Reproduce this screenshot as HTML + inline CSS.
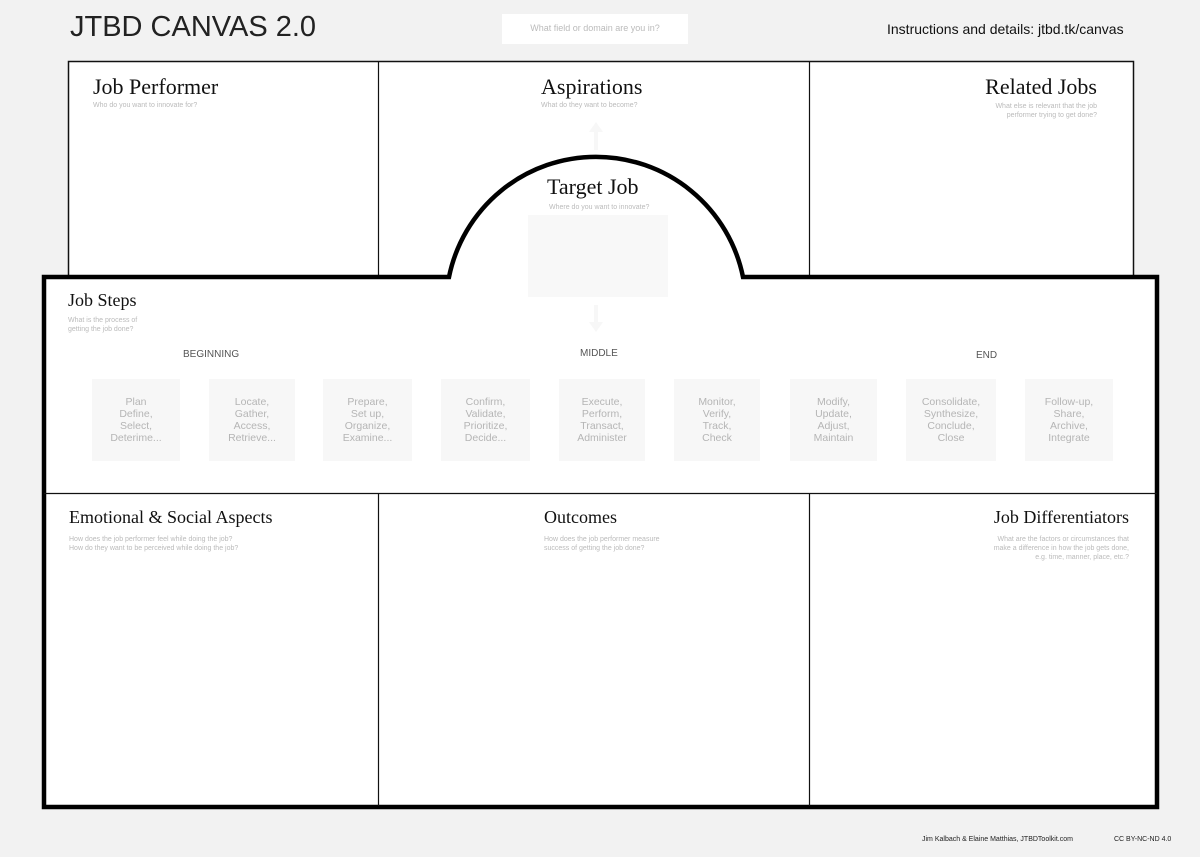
<!DOCTYPE html>
<html><head><meta charset="utf-8"><style>
body{margin:0;width:1200px;height:857px;background:#f2f2f2;position:relative;overflow:hidden;font-family:"Liberation Sans",sans-serif}
.a{position:absolute}
.h{font-family:"Liberation Serif",serif;font-size:22px;color:#111;white-space:nowrap}
.s{font-size:7px;color:#bbb;line-height:9px;white-space:nowrap}
.box{position:absolute;top:379px;height:82px;background:#f7f7f7;color:#b5b5b5;font-size:10.5px;text-align:center;line-height:12px;display:flex;align-items:center;justify-content:center}
.lbl{font-size:10px;color:#555;position:absolute}
</style></head><body>
<div class="a" style="left:70px;top:11px;font-size:29px;color:#222">JTBD CANVAS 2.0</div>
<div class="a" style="left:502px;top:14px;width:186px;height:30px;background:#fff;color:#bbb;font-size:9px;line-height:28px;text-align:center">What field or domain are you in?</div>
<div class="a" style="left:887px;top:21px;font-size:14px;color:#111">Instructions and details: jtbd.tk/canvas</div>

<svg class="a" style="left:0;top:0" width="1200" height="857">
<rect x="68.5" y="61.5" width="1065" height="230" fill="#fff" stroke="#111" stroke-width="1.5"/>
<line x1="378.5" y1="61" x2="378.5" y2="276" stroke="#111" stroke-width="1.2"/>
<line x1="809.5" y1="61" x2="809.5" y2="276" stroke="#111" stroke-width="1.2"/>
<polygon points="596,122 603,132 598,132 598,150 594,150 594,132 589,132" fill="#f7f7f7"/>
<path d="M44 277 H449 A150 150 0 0 1 743 277 H1157 V807 H44 Z" fill="#fff" stroke="#000" stroke-width="4.5"/>
<line x1="44" y1="493.5" x2="1157" y2="493.5" stroke="#111" stroke-width="1.2"/>
<line x1="378.5" y1="493" x2="378.5" y2="806" stroke="#111" stroke-width="1.2"/>
<line x1="809.5" y1="493" x2="809.5" y2="806" stroke="#111" stroke-width="1.2"/>
<rect x="528" y="215" width="140" height="82" fill="#f8f8f8"/>
<polygon points="596,332 603,322 598,322 598,305 594,305 594,322 589,322" fill="#f7f7f7"/>
</svg>

<div class="a h" style="left:93px;top:74px">Job Performer</div>
<div class="a s" style="left:93px;top:101px">Who do you want to innovate for?</div>
<div class="a h" style="left:541px;top:74px">Aspirations</div>
<div class="a s" style="left:541px;top:101px">What do they want to become?</div>
<div class="a h" style="right:103px;top:74px">Related Jobs</div>
<div class="a s" style="right:103px;top:102px;text-align:right">What else is relevant that the job<br>performer trying to get done?</div>
<div class="a h" style="left:547px;top:174px">Target Job</div>
<div class="a s" style="left:549px;top:203px">Where do you want to innovate?</div>
<div class="a h" style="left:68px;top:290px;font-size:18px">Job Steps</div>
<div class="a s" style="left:68px;top:316px">What is the process of<br>getting the job done?</div>
<div class="lbl" style="left:183px;top:349px">BEGINNING</div>
<div class="lbl" style="left:580px;top:348px">MIDDLE</div>
<div class="lbl" style="left:976px;top:350px">END</div>
<div class="box" style="left:92px;width:88px">Plan<br>Define,<br>Select,<br>Deterime...</div>
<div class="box" style="left:209px;width:86px">Locate,<br>Gather,<br>Access,<br>Retrieve...</div>
<div class="box" style="left:323px;width:89px">Prepare,<br>Set up,<br>Organize,<br>Examine...</div>
<div class="box" style="left:441px;width:89px">Confirm,<br>Validate,<br>Prioritize,<br>Decide...</div>
<div class="box" style="left:559px;width:86px">Execute,<br>Perform,<br>Transact,<br>Administer</div>
<div class="box" style="left:674px;width:86px">Monitor,<br>Verify,<br>Track,<br>Check</div>
<div class="box" style="left:790px;width:87px">Modify,<br>Update,<br>Adjust,<br>Maintain</div>
<div class="box" style="left:906px;width:90px">Consolidate,<br>Synthesize,<br>Conclude,<br>Close</div>
<div class="box" style="left:1025px;width:88px">Follow-up,<br>Share,<br>Archive,<br>Integrate</div>
<div class="a h" style="left:69px;top:507px;font-size:18px">Emotional &amp; Social Aspects</div>
<div class="a s" style="left:69px;top:535px">How does the job performer feel while doing the job?<br>How do they want to be perceived while doing the job?</div>
<div class="a h" style="left:544px;top:507px;font-size:18px">Outcomes</div>
<div class="a s" style="left:544px;top:535px">How does the job performer measure<br>success of getting the job done?</div>
<div class="a h" style="right:71px;top:507px;font-size:18px">Job Differentiators</div>
<div class="a s" style="right:71px;top:535px;text-align:right">What are the factors or circumstances that<br>make a difference in how the job gets done,<br>e.g. time, manner, place, etc.?</div>
<div class="a" style="left:922px;top:836px;font-size:7px;color:#222">Jim Kalbach &amp; Elaine Matthias, JTBDToolkit.com</div>
<div class="a" style="left:1114px;top:836px;font-size:7px;color:#222">CC BY-NC-ND 4.0</div>
</body></html>
